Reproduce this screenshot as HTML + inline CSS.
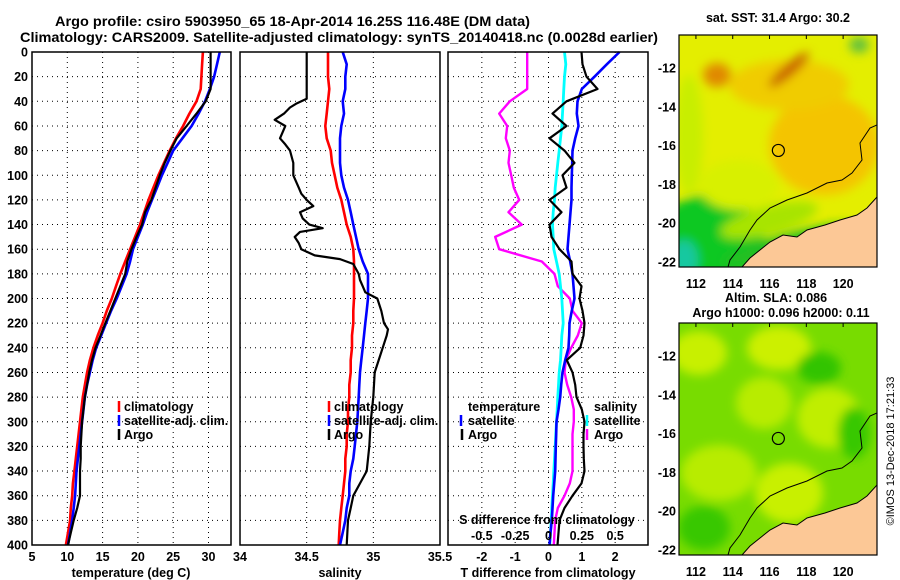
<!DOCTYPE html>
<html><head><meta charset="utf-8"><style>
body{margin:0;background:#fff}
svg{display:block;font-family:"Liberation Sans",sans-serif;font-weight:bold}
</style></head><body>
<svg id="fig" width="900" height="580" viewBox="0 0 900 580" xmlns="http://www.w3.org/2000/svg">
<defs>
<filter id="blr" x="-20%" y="-20%" width="140%" height="140%"><feGaussianBlur stdDeviation="5"/></filter>
<clipPath id="c1"><rect x="679" y="35" width="198" height="232"/></clipPath>
<clipPath id="c2"><rect x="679" y="323" width="198" height="232"/></clipPath>
</defs>
<rect width="900" height="580" fill="#fff"/>
<text x="55" y="26" font-size="13.5" textLength="475" lengthAdjust="spacingAndGlyphs">Argo profile: csiro 5903950_65 18-Apr-2014 16.25S 116.48E (DM data)</text>
<text x="20" y="42" font-size="13.5" textLength="638" lengthAdjust="spacingAndGlyphs">Climatology: CARS2009. Satellite-adjusted climatology: synTS_20140418.nc (0.0028d earlier)</text>
<g id="plots"></g>
<g id="maps"></g>
<text transform="translate(894,451) rotate(-90)" font-size="11" font-weight="normal" text-anchor="middle">©IMOS 13-Dec-2018 17:21:33</text>
</svg>
<script>
const depthGrid = [0,10,20,30,40,50,60,70,80,90,100,110,120,130,140,150,160,170,180,190,200,210,220,230,240,250,260,270,280,290,300,310,320,330,340,350,360,370,380,390,400];
const depthTicks = [0,20,40,60,80,100,120,140,160,180,200,220,240,260,280,300,320,340,360,380,400];
const tempTicks = [5,10,15,20,25,30];
const salTicks = [34,34.5,35,35.5];
const salTickLabels = ["34","34.5","35","35.5"];
const tdiffTicks = [-2,-1,0,1,2];
const sdiffTicks = [-0.5,-0.25,0,0.25,0.5];
const sdiffTickLabels = ["-0.5","-0.25","0","0.25","0.5"];

const tempClim = [29.2,29.1,29.0,28.9,28.3,27.3,26.4,25.4,24.5,23.7,22.9,22.2,21.5,20.9,20.3,19.6,18.9,18.2,17.5,16.9,16.3,15.6,15.0,14.3,13.7,13.2,12.8,12.5,12.2,12.0,11.8,11.6,11.4,11.2,11.0,10.8,10.7,10.5,10.4,10.1,9.8];
const tempSat = [31.6,31.2,30.8,30.2,29.5,28.6,27.6,26.3,25.0,24.2,23.4,22.7,22.0,21.3,20.7,20.0,19.3,18.9,18.4,17.7,17.0,16.2,15.5,14.8,14.1,13.6,13.2,12.8,12.5,12.3,12.1,11.9,11.7,11.5,11.3,11.2,11.1,10.9,10.7,10.4,10.1];
const tempArgo = [30.3,30.3,30.3,30.3,29.6,28.3,26.9,25.5,24.6,23.8,23.1,22.5,21.9,21.0,20.6,19.8,19.1,18.5,18.2,17.5,16.8,16.1,15.4,14.7,14.0,13.5,13.1,12.8,12.5,12.3,12.1,12.0,11.9,11.9,11.8,11.8,11.8,11.4,10.9,10.5,10.1];

const salClim = [34.66,34.66,34.66,34.67,34.66,34.65,34.64,34.65,34.68,34.69,34.71,34.73,34.76,34.78,34.80,34.83,34.85,34.855,34.855,34.855,34.855,34.85,34.85,34.84,34.84,34.83,34.83,34.82,34.82,34.81,34.81,34.80,34.80,34.79,34.79,34.78,34.77,34.76,34.75,34.745,34.74];
const salSat = [34.77,34.80,34.79,34.79,34.77,34.78,34.76,34.75,34.75,34.75,34.76,34.78,34.81,34.83,34.85,34.87,34.89,34.92,34.96,34.96,34.96,34.95,34.94,34.93,34.92,34.91,34.90,34.895,34.89,34.885,34.88,34.87,34.86,34.85,34.83,34.82,34.82,34.80,34.79,34.77,34.75];
const salArgoDepth = [0,38,42,45,50,55,60,65,70,75,80,90,100,110,115,120,125,130,135,140,143,146,150,155,160,165,168,172,180,185,190,195,200,210,220,225,230,240,250,260,280,300,320,340,350,360,370,380,400];
const salArgo = [34.50,34.50,34.42,34.375,34.33,34.26,34.34,34.32,34.30,34.34,34.375,34.40,34.40,34.44,34.46,34.50,34.55,34.45,34.47,34.52,34.62,34.45,34.41,34.44,34.46,34.56,34.75,34.85,34.89,34.90,34.92,34.94,35.03,35.06,35.08,35.11,35.10,35.07,35.04,35.01,35.0,34.98,34.97,34.95,34.90,34.85,34.83,34.81,34.80];

const tdiffSat = [2.13,1.75,1.38,1.0,0.87,0.85,0.90,0.80,0.72,0.71,0.70,0.69,0.69,0.66,0.63,0.60,0.57,0.65,0.72,0.75,0.78,0.70,0.63,0.62,0.60,0.50,0.42,0.38,0.35,0.30,0.24,0.23,0.22,0.21,0.20,0.17,0.14,0.12,0.10,0.06,0.03];
const tdiffArgo = [0.99,1.02,1.14,1.47,0.54,0.12,0.54,0.03,0.48,0.78,0.42,0.54,0.03,0.39,0.03,0.09,0.33,0.69,0.72,0.99,0.93,1.02,1.08,1.05,0.95,0.55,0.72,0.80,0.84,1.0,1.08,1.05,1.05,1.06,1.08,0.99,0.72,0.48,0.33,0.30,0.27];
const sdiffSat = [0.12,0.13,0.12,0.115,0.11,0.105,0.10,0.09,0.08,0.07,0.06,0.05,0.045,0.035,0.03,0.035,0.04,0.06,0.08,0.09,0.10,0.105,0.11,0.10,0.095,0.09,0.08,0.075,0.07,0.065,0.06,0.055,0.05,0.045,0.04,0.035,0.03,0.025,0.02,0.015,0.01];
const sdiffArgo = [-0.16,-0.16,-0.16,-0.16,-0.29,-0.37,-0.31,-0.32,-0.29,-0.30,-0.28,-0.26,-0.22,-0.30,-0.20,-0.40,-0.37,-0.05,0.045,0.07,0.16,0.18,0.25,0.22,0.17,0.13,0.12,0.14,0.17,0.19,0.19,0.18,0.18,0.18,0.18,0.16,0.12,0.07,0.05,0.045,0.04];

const lonTicks = [112,114,116,118,120];
const latTicks = [-12,-14,-16,-18,-20,-22];
const argoLon = 116.48, argoLat = -16.25;

const NS='http://www.w3.org/2000/svg';
const plots=document.getElementById('plots');
const maps=document.getElementById('maps');
function mk(tag,attrs,parent,txt){const e=document.createElementNS(NS,tag);for(const k in attrs)e.setAttribute(k,attrs[k]);if(txt!==undefined)e.textContent=txt;(parent||plots).appendChild(e);return e;}

const Y0=52,Y1=545;
const yD=d=>Y0+d*(Y1-Y0)/400;
const p1x=t=>32+(t-5)*7.06;
const p2x=s=>240+(s-34)*133.33;
const p3x=t=>548.5+t*33.33;
const p3s=s=>548.5+s*133.33;
const panels=[{l:32,r:231,name:'temperature-panel'},{l:240,r:440,name:'salinity-panel'},{l:448,r:648,name:'difference-panel'}];

panels.forEach((p,i)=>{
  const g=mk('g',{});
  
  
  depthTicks.forEach(d=>{if(d>0&&d<400){const ln=mk('line',{x1:p.l,x2:p.r,y1:yD(d),y2:yD(d),stroke:'#000','stroke-width':1,'stroke-dasharray':'1,4'},g);}});
  let xs=[];
  if(i===0)xs=tempTicks.slice(1).map(p1x);
  if(i===1)xs=salTicks.slice(1,3).map(p2x);
  if(i===2)xs=tdiffTicks.map(p3x);
  xs.forEach(x=>{const ln=mk('line',{x1:x,x2:x,y1:Y0,y2:Y1,stroke:'#000','stroke-width':1,'stroke-dasharray':'1,4'},g);});
});

function line(depths,vals,fx,color,w,name){
  const pts=depths.map((d,k)=>fx(vals[k]).toFixed(1)+','+yD(d).toFixed(1)).join(' ');
  const e=mk('polyline',{points:pts,fill:'none',stroke:color,'stroke-width':w,'stroke-linejoin':'round'});
  
  
}
line(depthGrid,tempClim,p1x,'#f00',2.6,'temperature-climatology-line');
line(depthGrid,tempSat,p1x,'#00f',2.6,'temperature-satellite-line');
line(depthGrid,tempArgo,p1x,'#000',2.2,'temperature-argo-line');
line(depthGrid,salClim,p2x,'#f00',2.6,'salinity-climatology-line');
line(depthGrid,salSat,p2x,'#00f',2.6,'salinity-satellite-line');
line(salArgoDepth,salArgo,p2x,'#000',2.2,'salinity-argo-line');
line(depthGrid,sdiffArgo,p3s,'#f0f',2.4,'salinity-diff-argo-line');
line(depthGrid,sdiffSat,p3s,'#0ff',2.8,'salinity-diff-satellite-line');
line(depthGrid,tdiffSat,p3x,'#00f',2.6,'temperature-diff-satellite-line');
line(depthGrid,tdiffArgo,p3x,'#000',2.2,'temperature-diff-argo-line');

panels.forEach(p=>{const r=mk('rect',{x:p.l,y:Y0,width:p.r-p.l,height:Y1-Y0,fill:'none',stroke:'#000','stroke-width':1.5});});

depthTicks.forEach(d=>{const t=mk('text',{x:28,y:yD(d)+4.5,'font-size':12.5,'text-anchor':'end'},plots,String(d));});
tempTicks.forEach(v=>{const t=mk('text',{x:p1x(v),y:561,'font-size':12.5,'text-anchor':'middle'},plots,String(v));});
salTicks.forEach((v,k)=>{const t=mk('text',{x:p2x(v),y:561,'font-size':12.5,'text-anchor':'middle'},plots,salTickLabels[k]);});
tdiffTicks.forEach(v=>{const t=mk('text',{x:p3x(v),y:561,'font-size':12.5,'text-anchor':'middle'},plots,String(v));});
sdiffTicks.forEach((v,k)=>{const t=mk('text',{x:p3s(v),y:540,'font-size':12.5,'text-anchor':'middle'},plots,sdiffTickLabels[k]);});
function txt(x,y,s,name,anchor,size){const t=mk('text',{x:x,y:y,'font-size':size||12.5,'text-anchor':anchor||'start'},plots,s);return t;}
txt(131,577,'temperature (deg C)','temperature-axis-title','middle');
txt(340,577,'salinity','salinity-axis-title','middle');
txt(548,577,'T difference from climatology','tdiff-axis-title','middle');
txt(547,524,'S difference from climatology','sdiff-axis-title','middle');

function legTick(x,y,color,name){const e=mk('line',{x1:x,x2:x,y1:y-10,y2:y+1,stroke:color,'stroke-width':2.5});}
legTick(119,411,'#f00','legend-climatology-marker');txt(124,411,'climatology','legend-climatology');
legTick(119,425,'#00f','legend-satellite-marker');txt(124,425,'satellite-adj. clim.','legend-satellite');
legTick(119,439,'#000','legend-argo-marker');txt(124,439,'Argo','legend-argo');
legTick(329,411,'#f00','legend2-climatology-marker');txt(334,411,'climatology','legend2-climatology');
legTick(329,425,'#00f','legend2-satellite-marker');txt(334,425,'satellite-adj. clim.','legend2-satellite');
legTick(329,439,'#000','legend2-argo-marker');txt(334,439,'Argo','legend2-argo');
txt(468,411,'temperature','legend-temperature-heading');
legTick(461,425,'#00f','legend-t-satellite-marker');txt(468,425,'satellite','legend-t-satellite');
legTick(462,439,'#000','legend-t-argo-marker');txt(468,439,'Argo','legend-t-argo');
txt(594,411,'salinity','legend-salinity-heading');
legTick(587,425,'#0ff','legend-s-satellite-marker');txt(594,425,'satellite','legend-s-satellite');
legTick(587,439,'#f0f','legend-s-argo-marker');txt(594,439,'Argo','legend-s-argo');

const MX=679,MW=198,MH=232;
const landRel=[[198,162],[188,173],[178,180],[161,185],[146,190],[128,195],[118,202],[104,200],[91,207],[81,215],[71,223],[63,232],[198,232]];
const contourRel=[[198,90],[191,93],[181,108],[183,125],[173,138],[163,145],[148,148],[128,158],[108,165],[91,173],[78,185],[71,195],[61,212],[51,225],[49,232]];
function drawMap(top,clip,blobs,base,name){
  const g=mk('g',{},maps);
  
  
  const inner=mk('g',{'clip-path':'url(#'+clip+')'},g);
  mk('rect',{x:MX,y:top,width:MW,height:MH,fill:base},inner);
  const bg=mk('g',{filter:'url(#blr)'},inner);
  blobs.forEach(b=>mk('ellipse',{cx:MX+b[0],cy:top+b[1],rx:b[2],ry:b[3],fill:b[4],transform:'rotate('+(b[5]||0)+' '+(MX+b[0])+' '+(top+b[1])+')'},bg));
  const land=mk('polygon',{points:landRel.map(p=>(MX+p[0])+','+(top+p[1])).join(' '),fill:'#fcc896',stroke:'#000','stroke-width':1},inner);
  
  const ct=mk('polyline',{points:contourRel.map(p=>(MX+p[0])+','+(top+p[1])).join(' '),fill:'none',stroke:'#000','stroke-width':1},inner);
  
  const lonX=lon=>MX+(lon-111.08)*18.4;
  const latY=lat=>top+(-10.3-lat)*19.4;
  const c=mk('circle',{cx:lonX(argoLon),cy:latY(argoLat),r:6,fill:'none',stroke:'#000','stroke-width':1.2},g);
  
  const fr=mk('rect',{x:MX,y:top,width:MW,height:MH,fill:'none',stroke:'#000','stroke-width':1.2},g);
  
  lonTicks.forEach(v=>{mk('line',{x1:lonX(v),x2:lonX(v),y1:top,y2:top+4,stroke:'#000'},g);const t=mk('text',{x:lonX(v),y:top+MH+21,'font-size':12.5,'text-anchor':'middle'},g,String(v));});
  latTicks.forEach(v=>{const t=mk('text',{x:676,y:latY(v)+4.5,'font-size':12.5,'text-anchor':'end'},g,String(v));});
}
drawMap(35,'c1',[
 [145,110,55,50,'#f4c400'],[110,50,60,25,'#f0cc00'],[38,40,14,12,'#e08800'],[110,35,26,6,'#c85a00',-40],[180,10,10,8,'#60c040'],
 [10,100,14,60,'#c8ee00'],[30,205,55,45,'#10c820'],[110,210,70,12,'#20c020',-15],[5,225,14,20,'#18c8a0'],[60,150,40,25,'#d8f000'],[90,185,50,14,'#a8e400',-15]
],'#e4ee00','sst-map');
drawMap(323,'c2',[
 [20,30,28,22,'#c8f000'],[100,25,32,22,'#ccf000'],[150,95,32,30,'#c0ee00'],[40,150,38,28,'#b8ec00'],[110,170,34,30,'#c8f000'],[85,80,28,26,'#b8ec00'],
 [140,45,22,16,'#30c400'],[175,110,16,26,'#38c800'],[25,205,26,22,'#38c800']
],'#78dc00','sla-map');
function mt(x,y,s,name){const t=mk('text',{x:x,y:y,'font-size':12.5,'text-anchor':'middle'},maps,s);}
mt(778,22,'sat. SST: 31.4 Argo: 30.2','sst-map-title');
mt(776,302,'Altim. SLA: 0.086','sla-map-title');
mt(781,317,'Argo h1000: 0.096 h2000: 0.11','sla-map-subtitle');
</script>
</body></html>
